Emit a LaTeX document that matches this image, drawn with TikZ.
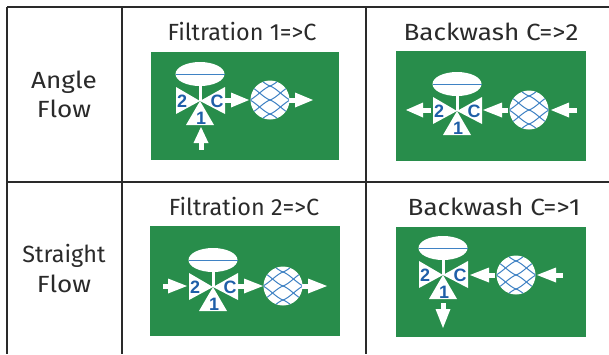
\documentclass[tikz,border=0pt]{standalone}
\usepackage{fontspec}
\setmainfont{Fira Sans}
\newfontfamily\symfont{Liberation Sans}
\newfontfamily\widefont{Fira Sans}[FakeStretch=1.115]
\definecolor{panelgreen}{HTML}{288D4B}
\definecolor{markblue}{HTML}{1F5FA8}
\definecolor{meshblue}{HTML}{3F82C4}
\definecolor{gridline}{HTML}{2A2A2A}
\definecolor{inktext}{HTML}{2A2A2A}
\tikzset{
  x=1bp,y=-1bp,
  gridrule/.style={draw=gridline,line width=1.6bp},
  panel/.style={fill=panelgreen,draw=none},
  stemline/.style={draw=white,line width=3bp},
  meshline/.style={draw=meshblue,line width=1bp},
  vlabel/.style={font=\symfont\bfseries\fontsize{18}{18}\selectfont,text=markblue,inner sep=0pt},
  celltext/.style={font=\fontsize{23.5}{29.5}\selectfont,text=inktext,align=center,inner sep=0pt},
  widetext/.style={font=\widefont\fontsize{23.5}{29.5}\selectfont,text=inktext,align=center,inner sep=0pt},
}
\newcommand{\flowH}[4]{% start x, head base x, tip x, y
  \fill[white] (#1,#4-2.5) rectangle (#2,#4+2.5);
  \fill[white] (#2,#4-7.5) -- (#3,#4) -- (#2,#4+7.5) -- cycle;}
\newcommand{\flowV}[4]{% start y, head base y, tip y, x
  \fill[white] (#4-2.5,#1) rectangle (#4+2.5,#2);
  \fill[white] (#4-7.5,#2) -- (#4,#3) -- (#4+7.5,#2) -- cycle;}
\newcommand{\valve}[2]{% centre of the valve
  \begin{scope}[shift={(#1,#2)}]
    \draw[stemline] (0,-20) -- (0,0);
    \fill[white] (0,-27) ellipse [x radius=24.5,y radius=12];
    \draw[draw=meshblue,line width=1bp] (-24.5,-27) -- (24.5,-27);
    \fill[white] (0,0) -- (-24,-14) -- (-24,13) -- cycle;
    \fill[white] (0,0) -- (25,-14) -- (25,13) -- cycle;
    \fill[white] (0,0) -- (-14,24) -- (14,24) -- cycle;
    \node[vlabel] at (-18,0) {2};
    \node[vlabel] at (17,0) {C};
    \node[vlabel] at (1,17) {1};
  \end{scope}}
\newcommand{\meshfilter}[2]{%
  \begin{scope}[shift={(#1,#2)}]
    \fill[white] (0,0) circle [radius=19.5];
    \begin{scope}
      \clip (0,0) circle [radius=19.5];
      \foreach \d in {-28,-14,0,14,28}{
        \draw[meshline] (-20,\d-14) .. controls (-14,\d-11) and (-6,\d-2) .. (0,\d) .. controls (6,\d+2) and (14,\d+11) .. (20,\d+14);
        \draw[meshline] (-20,\d+14) .. controls (-14,\d+11) and (-6,\d+2) .. (0,\d) .. controls (6,\d-2) and (14,\d-11) .. (20,\d-14);
      }
    \end{scope}
  \end{scope}}
\begin{document}
\begin{tikzpicture}
\useasboundingbox (0,0) rectangle (609,354);
\fill[white] (0,0) rectangle (609,354);
% table
\coordinate (tl) at (7,7);
\coordinate (tr) at (609,7);
\coordinate (ml) at (7,182);
\coordinate (mr) at (609,182);
\coordinate (bl) at (7,354);
\coordinate (c1t) at (122,7);
\coordinate (c1b) at (122,354);
\coordinate (c2t) at (366,7);
\coordinate (c2b) at (366,354);
\draw[gridrule] (tl) -- (tr);
\draw[gridrule] (ml) -- (mr);
\draw[gridrule] (tl) -- (bl);
\draw[gridrule] (c1t) -- (c1b);
\draw[gridrule] (c2t) -- (c2b);
% text
\node[widetext] (t1) at (64,94.5) {Angle\\Flow};
\node[celltext] (t2) at (64,268.5) {Straight\\\widefont Flow};
\node[celltext] (h1) at (242,32) {Filtration 1=>C};
\node[widetext] (h2) at (491,32) {Backwash C=>2};
\node[celltext] (h3) at (244,207) {Filtration 2=>C};
\node[widetext] (h4) at (494,207) {Backwash C=>1};
% panel 1
\fill[panel] (151,52) rectangle (339,160);
\valve{200}{101}
\meshfilter{270}{100}
\flowH{224}{231}{249}{100}
\flowH{289}{295}{313}{100}
\flowV{150}{143}{127}{201}
% panel 2
\fill[panel] (396,51) rectangle (586,161);
\valve{457}{111}
\meshfilter{529}{110}
\flowH{431}{423}{406}{110}
\flowH{508}{502}{483}{110}
\flowH{577}{569}{551}{110}
% panel 3
\fill[panel] (150,226) rectangle (340,336);
\valve{213}{287}
\meshfilter{283}{286}
\flowH{163}{168}{187}{286}
\flowH{237}{244}{263}{286}
\flowH{302}{308}{327}{286}
% panel 4
\fill[panel] (396,227) rectangle (586,337);
\valve{443}{275}
\meshfilter{516}{275}
\flowH{495}{489}{470}{275}
\flowH{563}{556}{537}{275}
\flowV{303}{309}{328}{443}
\end{tikzpicture}
\end{document}
